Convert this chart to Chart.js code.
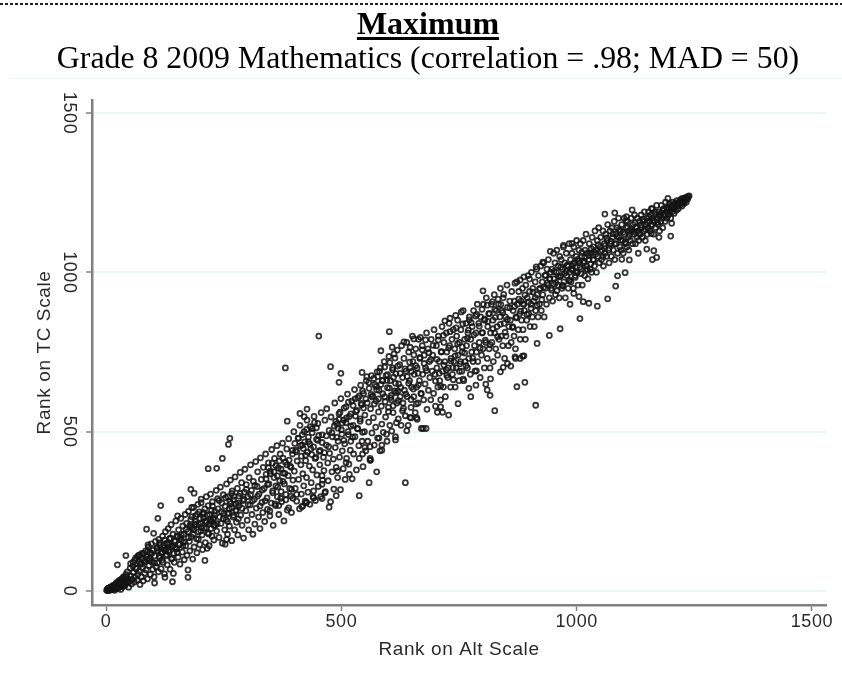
<!DOCTYPE html>
<html>
<head>
<meta charset="utf-8">
<title>Maximum</title>
<script src="https://cdn.jsdelivr.net/npm/chart.js@4"></script>
<style>
    body { margin: 0; background: #fff; }
    #wrap { position: relative; width: 842px; height: 673px; overflow: hidden; }
    #chart { position: absolute; left: 0; top: 0; }
    #dash { position: absolute; left: 0; top: 3px; width: 842px; height: 2px; background: repeating-linear-gradient(90deg, #222 0, #222 3px, #fff 3px, #fff 5px); }
    #rule { position: absolute; left: 10px; top: 78px; width: 832px; border-top: 1px solid #eff4f4; }
    .head { position: absolute; left: 7px; width: 842px; text-align: center; color: #000; font-family: "Liberation Serif", serif; white-space: nowrap; }
    #head1 { top: 5px; font-size: 32px; font-weight: bold; text-decoration: underline; text-decoration-thickness: 3px; text-underline-offset: 3px; }
    #head2 { top: 40px; font-size: 31.8px; }
</style>
</head>
<body>
<div id="wrap">
    <canvas id="chart" width="842" height="673"></canvas>
    <div id="dash"></div>
    <div id="rule"></div>
    <div class="head" id="head1">Maximum</div>
    <div class="head" id="head2">Grade 8 2009 Mathematics (correlation = .98; MAD = 50)</div>
</div>
<script>
const tickValues = [0, 500, 1000, 1500];

//Values, lower end of the band
const altLow = [
    1,3,4,6,7,9,10,12,13,15,16,18,19,21,
    22,24,25,27,28,30,31,33,34,36,37,39,40,42,
    43,45,46,48,49,51,52,54,55,57,58,60,61,63,
    64,66,67,69,70,72,73,75,76,78,79,81,82,84,
    85,87,88,90,91,93,94,96,97,99,100,102,103,105,
    106,108,109,111,112,114,115,117,118,120,121,123,124,126,
    127,129,130,132,133,135,136,138,139,141,142,144,145,147,
    148,150,151,153,154,156,157,159,160,162,163,165,166,168,
    169,171,172,174,175,177,178,180,181,183,184,186,187,189,
    190,192,193,195,196,198,199,201,202,204,205,207,208,210,
    211,213,214,216,217,219,220,222,223,225,226,228,229,231,
    232,234,235,237,238,240,241,243,244,246,247,249,250,252
];
const tcLow = [
    2,6,1,9,3,12,5,4,14,8,18,2,11,24,
    7,28,15,10,33,20,5,38,26,13,44,31,17,52,
    24,60,38,12,30,72,47,22,36,90,58,28,44,104,
    70,34,52,112,62,20,86,44,118,74,32,96,56,126,
    66,100,38,138,80,120,52,148,92,68,128,44,110,156,
    76,134,88,60,162,104,144,70,122,172,90,136,54,186,
    110,150,82,196,128,164,68,208,100,140,178,118,90,156,
    220,132,172,106,192,146,84,228,160,122,204,178,98,240,
    142,212,112,186,250,156,126,224,170,198,100,262,138,208,
    236,164,120,272,186,248,146,214,288,176,130,230,198,258,
    152,296,216,182,268,142,240,304,196,172,280,226,160,250,
    206,316,188,290,258,168,232,326,212,276,150,302,244,192
];

//Middle of the band
const altMid = [
    253,255,256,258,259,261,262,264,265,267,268,270,271,273,
    274,276,277,279,280,282,283,285,286,288,289,291,292,294,
    295,297,298,300,301,303,304,306,307,309,310,312,313,315,
    316,318,319,321,322,324,325,327,328,330,331,333,334,336,
    337,339,340,342,343,345,346,348,349,351,352,354,355,357,
    358,360,361,363,364,366,367,369,370,372,373,375,376,378,
    379,381,382,384,385,387,388,390,391,393,394,396,397,399,
    400,402,403,405,406,408,409,411,412,414,415,417,418,420,
    421,423,424,426,427,429,430,432,433,435,436,438,439,441,
    442,444,445,447,448,450,451,453,454,456,457,459,460,462,
    463,465,466,468,469,471,472,474,475,477,478,480,481,483,
    484,486,487,489,490,492,493,495,496,498,499,501,502,504,
    505,507,508,510,511,513,514,516,517,519,520,522,523,525,
    526,528,529,531,532,534,535,537,538,540,541,543,544,546,
    547,549,550,552,553,555,556,558,559,561,562,564,565,567,
    568,570,571,573,574,576,577,579,580,582,583,585,586,588,
    589,591,592,594,595,597,598,600,601,603,604,606,607,609,
    610,612,613,615,616,618,619,621,622,624,625,627,628,630,
    631,633,634,636,637,639,640,642,643,645,646,648,649,651,
    652,654,655,657,658,660,661,663,664,666,667,669,670,672,
    673,675,676,678,679,681,682,684,685,687,688,690,691,693
];
const tcMid = [
    266,224,336,178,296,244,204,348,274,158,314,232,286,192,
    358,254,216,322,176,298,268,372,238,340,206,284,166,310,
    382,252,334,222,296,192,356,270,396,316,240,178,344,288,
    210,406,260,328,374,232,304,196,418,350,278,246,388,322,
    218,430,366,292,256,402,336,236,376,276,444,314,206,356,
    416,268,330,456,296,386,240,346,430,312,280,464,370,220,
    336,404,286,446,254,362,478,322,392,298,246,430,348,500,
    376,322,442,282,408,480,350,258,520,396,304,458,368,330,
    500,282,426,356,536,310,468,392,272,446,340,510,380,314,
    548,416,284,476,364,526,328,438,396,296,560,490,348,420,
    378,536,312,458,572,402,346,504,432,280,546,374,484,414,
    320,590,450,388,524,356,470,556,420,318,604,492,440,384,
    536,462,350,578,416,618,500,398,548,442,470,596,352,520,
    430,632,484,564,380,510,606,456,416,540,646,584,470,390,
    620,500,552,440,660,590,470,530,636,410,572,676,496,612,
    544,458,648,514,596,688,480,562,630,440,700,580,524,660,
    498,720,610,546,676,470,638,576,736,520,660,600,502,700,
    560,744,628,484,682,590,756,540,650,710,610,520,770,670,
    590,730,630,550,690,780,610,520,750,660,700,576,640,800,
    720,610,680,560,760,640,700,590,790,660,730,620,510,770,
    680,600,740,650,700,810,570,760,630,720,670,600,790,690
];

//Upper end of the band
const altHigh = [
    694,696,697,699,700,702,703,705,706,708,709,711,712,714,
    715,717,718,720,721,723,724,726,727,729,730,732,733,735,
    736,738,739,741,742,744,745,747,748,750,751,753,754,756,
    757,759,760,762,763,765,766,768,769,771,772,774,775,777,
    778,780,781,783,784,786,787,789,790,792,793,795,796,798,
    799,801,802,804,805,807,808,810,811,813,814,816,817,819,
    820,822,823,825,826,828,829,831,832,834,835,837,838,840,
    841,843,844,846,847,849,850,852,853,855,856,858,859,861,
    862,864,865,867,868,870,871,873,874,876,877,879,880,882,
    883,885,886,888,889,891,892,894,895,897,898,900,901,903,
    904,906,907,909,910,912,913,915,916,918,919,921,922,924,
    925,927,928,930,931,933,934,936,937,939,940,942,943,945,
    946,948,949,951,952,954,955,957,958,960,961,963,964,966,
    967,969,970,972,973,975,976,978,979,981,982,984,985,987,
    988,990,991,993,994,996,997,999,1000,1002,1003,1005,1006,1008,
    1009,1011,1012,1014,1015,1017,1018,1020,1021,1023,1024,1026,1027,1029,
    1030,1032,1033,1035,1036,1038,1039,1041,1042,1044,1045,1047,1048,1050,
    1051,1053,1054,1056,1057,1059,1060,1062,1063,1065,1066,1068,1069,1071,
    1072,1074,1075,1077,1078,1080,1081,1083,1084,1086,1087,1089,1090,1092,
    1093,1095,1096,1098,1099,1101,1102,1104,1105,1107,1108,1110,1111,1113,
    1114,1116,1117,1119,1120,1122,1123,1125,1126,1128,1129,1131,1132,1134,
    1135,1137,1138,1140,1141,1143,1144,1146,1147,1149,1150,1152,1153,1155,
    1156,1158,1159,1161,1162,1164,1165,1167,1168,1170,1171,1173,1174,1176,
    1177,1179,1180,1182,1183,1185,1186,1188,1189,1191,1192,1194,1195,1197,
    1198,1200,1201,1203,1204,1206,1207,1209,1210,1212,1213,1215,1216,1218,
    1219,1221,1222,1224,1225,1227,1228,1230,1231,1233,1234,1236,1237,1239
];
const tcHigh = [
    740,620,820,680,580,770,700,640,800,720,660,600,750,830,
    690,640,780,720,610,810,750,670,700,840,770,640,730,790,
    680,820,720,760,640,700,800,850,740,660,780,720,820,690,
    750,880,660,790,720,840,770,700,810,730,860,680,790,750,
    830,720,880,770,690,810,750,900,720,840,780,670,860,740,
    810,760,900,700,850,780,920,730,830,870,760,700,810,900,
    780,850,720,930,810,760,880,830,740,900,790,860,950,800,
    880,770,920,840,730,860,800,960,890,770,830,910,850,780,
    940,830,880,800,910,760,860,970,900,820,940,870,790,910,
    850,950,820,900,880,790,960,850,920,990,870,940,830,900,
    1000,860,950,910,830,970,880,1010,930,860,990,900,950,1020,
    880,970,930,1030,860,990,950,900,1010,960,1040,920,980,1000,
    950,1010,910,1060,980,1030,930,1000,1070,960,1020,920,1050,990,
    1040,950,1010,1080,970,1030,920,1060,990,1020,950,1090,1000,1040,
    970,1060,1010,950,1080,1030,990,1050,1100,1000,960,1070,1030,1090,
    1010,1050,960,1100,1030,990,1070,1120,1020,1060,980,1040,1090,1010,
    1060,1000,1110,1040,1080,1020,1130,1070,1000,1100,1050,1140,1030,1080,
    1110,1040,1070,1130,1020,1090,1060,1120,1050,1100,1150,1070,1030,1130,
    1090,1050,1140,1110,1070,1160,1040,1120,1090,1140,1060,1170,1110,1080,
    1130,1070,1150,1100,1060,1170,1120,1090,1140,1080,1160,1110,1070,1130,
    1100,1170,1130,1090,1150,1120,1180,1090,1140,1110,1170,1130,1100,1160,
    1120,1180,1140,1110,1160,1130,1190,1100,1150,1170,1120,1140,1190,1160,
    1130,1180,1150,1200,1170,1120,1160,1190,1140,1210,1170,1150,1190,1130,
    1180,1160,1210,1170,1140,1200,1180,1160,1220,1190,1170,1200,1180,1215,
    1190,1170,1205,1190,1220,1200,1185,1215,1205,1195,1225,1210,1200,1220,
    1210,1228,1218,1208,1232,1222,1216,1234,1226,1220,1236,1230,1238,1240
];

//The dark clumps inside the band
const altClump = [
    3,5,8,11,14,17,20,23,26,29,32,35,38,41,
    6,9,12,15,18,21,24,27,30,33,36,39,44,47,
    52,57,61,64,67,70,72,75,77,80,83,86,89,93,
    92,97,103,108,113,119,124,129,135,140,146,151,157,163,
    110,114,118,122,125,128,131,134,137,141,145,149,152,156,
    160,165,170,175,180,185,191,196,201,206,212,218,223,229,
    178,182,186,190,194,197,200,203,207,211,215,219,224,228,
    222,226,231,236,240,245,249,254,258,262,267,271,276,281,
    258,263,267,272,276,281,285,289,293,298,302,307,311,316,
    322,327,332,338,343,348,354,359,365,371,376,382,388,394,
    340,345,349,353,357,361,364,368,372,376,380,384,389,393,
    396,401,405,409,413,417,422,426,430,434,438,443,447,452,
    415,419,424,428,433,437,441,446,450,455,459,464,468,473,
    488,493,497,502,506,511,515,520,525,529,533,538,542,547,
    480,485,490,495,500,505,510,515,520,524,530,535,540,545,
    545,552,558,563,569,574,581,587,592,598,603,609,614,620,
    565,570,575,579,584,588,593,597,602,606,611,615,620,625,
    600,605,610,616,621,626,632,637,643,648,653,659,664,670,
    635,640,645,649,654,658,663,667,672,676,681,686,690,695,
    703,708,713,718,723,728,733,737,742,747,752,757,762,768,
    700,706,711,717,724,731,738,744,751,758,765,772,779,785,
    770,776,782,788,793,799,804,810,815,821,826,833,839,845,
    795,800,806,811,816,822,827,832,838,843,848,853,858,864,
    868,872,877,881,886,890,894,898,903,907,912,916,921,926,
    930,934,938,943,947,952,956,961,966,970,975,980,985,990,
    952,958,965,971,978,984,991,997,1004,1010,1017,1023,1030,1037,
    993,998,1002,1007,1011,1016,1021,1026,1031,1036,1041,1046,1051,1056,
    1060,1064,1069,1073,1077,1081,1086,1090,1094,1099,1103,1108,1112,1117,
    1120,1124,1128,1133,1137,1141,1146,1150,1154,1159,1163,1168,1172,1176,
    1180,1184,1188,1192,1196,1200,1204,1208,1212,1216,1220,1224,1228,1232
];
const tcClump = [
    5,9,7,13,11,17,15,21,19,27,23,33,29,37,
    4,3,9,6,14,9,22,14,31,17,40,24,44,30,
    86,78,97,72,108,91,113,84,101,118,92,109,125,102,
    96,118,88,137,109,97,128,114,147,103,136,121,168,142,
    127,151,119,143,160,131,149,123,166,141,158,134,171,147,
    176,153,193,167,201,178,209,163,188,241,197,179,218,206,
    206,233,193,217,241,208,227,199,246,219,238,211,253,229,
    223,267,238,211,284,249,227,293,218,258,306,237,274,226,
    243,281,262,297,251,276,306,259,288,319,271,302,283,331,
    298,267,317,283,334,251,308,273,326,291,344,303,261,319,
    352,387,368,401,374,393,361,408,382,417,369,396,411,388,
    441,463,437,479,456,491,468,507,483,516,497,529,512,488,
    423,447,409,436,461,428,452,419,473,441,466,434,487,453,
    532,511,561,527,574,543,593,556,582,603,567,612,589,574,
    497,518,482,539,506,473,528,491,517,483,549,509,533,498,
    628,603,654,617,667,642,689,661,703,679,717,694,731,706,
    609,587,631,603,648,619,594,661,637,614,671,652,628,683,
    563,607,581,623,597,639,573,618,652,601,634,587,647,619,
    697,673,718,689,741,707,683,733,757,714,692,748,726,771,
    727,683,751,709,694,763,722,701,738,776,713,766,747,793,
    659,788,643,802,677,814,663,826,689,838,707,851,731,863,
    819,842,804,868,831,884,853,897,871,908,884,916,899,931,
    762,811,787,846,773,823,859,798,837,874,812,852,889,827,
    893,857,916,878,901,929,868,907,887,938,921,896,947,914,
    953,991,967,979,944,1003,968,987,1016,958,997,1023,976,1008,
    963,942,986,958,1004,973,1021,984,1036,996,1047,1007,1026,1064,
    1027,1003,1041,1017,1063,1035,1011,1053,1074,1039,1058,1087,1066,1049,
    1083,1108,1076,1097,1121,1089,1113,1134,1101,1126,1094,1143,1118,1137,
    1127,1156,1141,1123,1149,1167,1136,1158,1174,1146,1163,1182,1157,1176,
    1187,1194,1178,1203,1197,1209,1203,1214,1218,1212,1224,1229,1225,1233
];

//Points that sit clear of the band
const altStray = [
    116,159,110,86,101,180,187,202,182,152,210,174,174,125,143,141,103,215,253,256,42,89,24,
    263,260,247,217,235,385,412,427,421,367,405,397,426,418,440,
    452,381,477,584,499,495,608,544,554,577,602,633,646,654,668,679,
    617,648,661,639,674,680,630,586,586,561,550,545,561,615,580,596,
    636,559,538,474,575,517,492,489,510,562,459,459,465,459,441,425,416,
    720,731,743,755,801,838,844,853,860,870,880,888,873,890,913,826,748,
    711,704,715,728,646,660,775,816,810,807,817,771,786,759,787,
    944,972,990,928,914,916,942,965,1007,1044,1066,1083,1087,1103,986,1026,1014,1005,994,
    869,885,869,880,888,900,
    1060,1081,1118,1106,1105,1194,1159,1202,1200,1175,1159,1164,1170,1161,1149,1131,1112,1096
];
const tcStray = [
    268,286,228,194,181,319,307,277,262,236,96,66,43,43,55,29,25,134,147,162,111,145,82,
    479,460,416,384,385,533,557,571,547,268,303,291,278,267,295,
    800,700,704,754,683,655,765,686,673,673,814,782,765,791,796,788,
    528,543,539,503,510,510,566,458,442,453,451,430,416,474,480,492,
    340,340,299,263,374,366,377,299,403,411,362,335,308,290,292,277,264,
    848,856,865,876,942,688,702,714,706,730,730,738,641,655,583,566,588,
    578,561,561,552,545,544,610,614,631,649,666,636,646,665,691,
    1066,1085,1091,1032,1017,777,802,823,855,894,917,957,989,999,900,903,908,924,934,
    735,737,966,976,986,979,
    1183,1187,1196,1175,1162,1232,1200,1154,1114,1110,1122,1068,1047,1040,1073,1060,1039,1041
];

const altRank = [...altLow, ...altMid, ...altHigh, ...altClump, ...altStray];
const tcRank = [...tcLow, ...tcMid, ...tcHigh, ...tcClump, ...tcStray];

const axisGrey = '#808080';
const textColor = '#2b2b2b';
const tickFont = { family: '"Liberation Sans", sans-serif', size: 18 };
const titleFont = { family: '"Liberation Sans", sans-serif', size: 19 };

const rankData = {
    datasets: [{
        label: 'Rank',
        data: altRank.map((v, i) => ({ x: v, y: tcRank[i] })),
        borderColor: 'rgba(20, 20, 20, 0.85)',
        backgroundColor: 'rgba(0, 0, 0, 0)',
        borderWidth: 1.8,
        pointRadius: 2.5
    }]
};

//Stretch the axis text a little, like the reference
const spacedText = {
    id: 'spacedText',
    beforeDraw(chart) { chart.ctx.letterSpacing = '0.6px'; }
};

const rankConfig = {
    type: 'scatter',
    data: rankData,
    plugins: [spacedText],
    options: {
        responsive: false,
        animation: false,
        layout: { padding: { top: 100, right: 16 } },
        plugins: {
            legend: { display: false },
            tooltip: { enabled: false }
        },
        scales: {
            x: {
                min: -30,
                max: 1530,
                afterBuildTicks: (scale) => { scale.ticks = tickValues.map((v) => ({ value: v })); },
                afterFit: (scale) => { scale.height = 68; },
                border: { color: axisGrey, width: 2.5 },
                grid: { drawOnChartArea: false, tickColor: axisGrey, tickLength: 6, tickWidth: 1.5 },
                ticks: { color: textColor, font: tickFont, padding: 0, maxRotation: 0, callback: (v) => String(v) },
                title: { display: true, text: 'Rank on Alt Scale', color: textColor, font: titleFont, padding: { top: 0, bottom: 12 } }
            },
            y: {
                min: -44,
                max: 1541,
                afterBuildTicks: (scale) => { scale.ticks = tickValues.map((v) => ({ value: v })); },
                afterFit: (scale) => { scale.width = 92; },
                border: { color: axisGrey, width: 2.5 },
                grid: { color: '#eef5f5', lineWidth: 2, tickColor: axisGrey, tickLength: 6, tickWidth: 1.5 },
                ticks: { color: textColor, font: tickFont, padding: -3, minRotation: -90, crossAlign: 'center', callback: (v) => String(v) },
                title: { display: true, text: 'Rank on TC Scale', color: textColor, font: titleFont, padding: { top: 33, bottom: 0 } }
            }
        }
    }
};

var rankChart = new Chart(document.getElementById('chart'), rankConfig);
</script>
</body>
</html>
